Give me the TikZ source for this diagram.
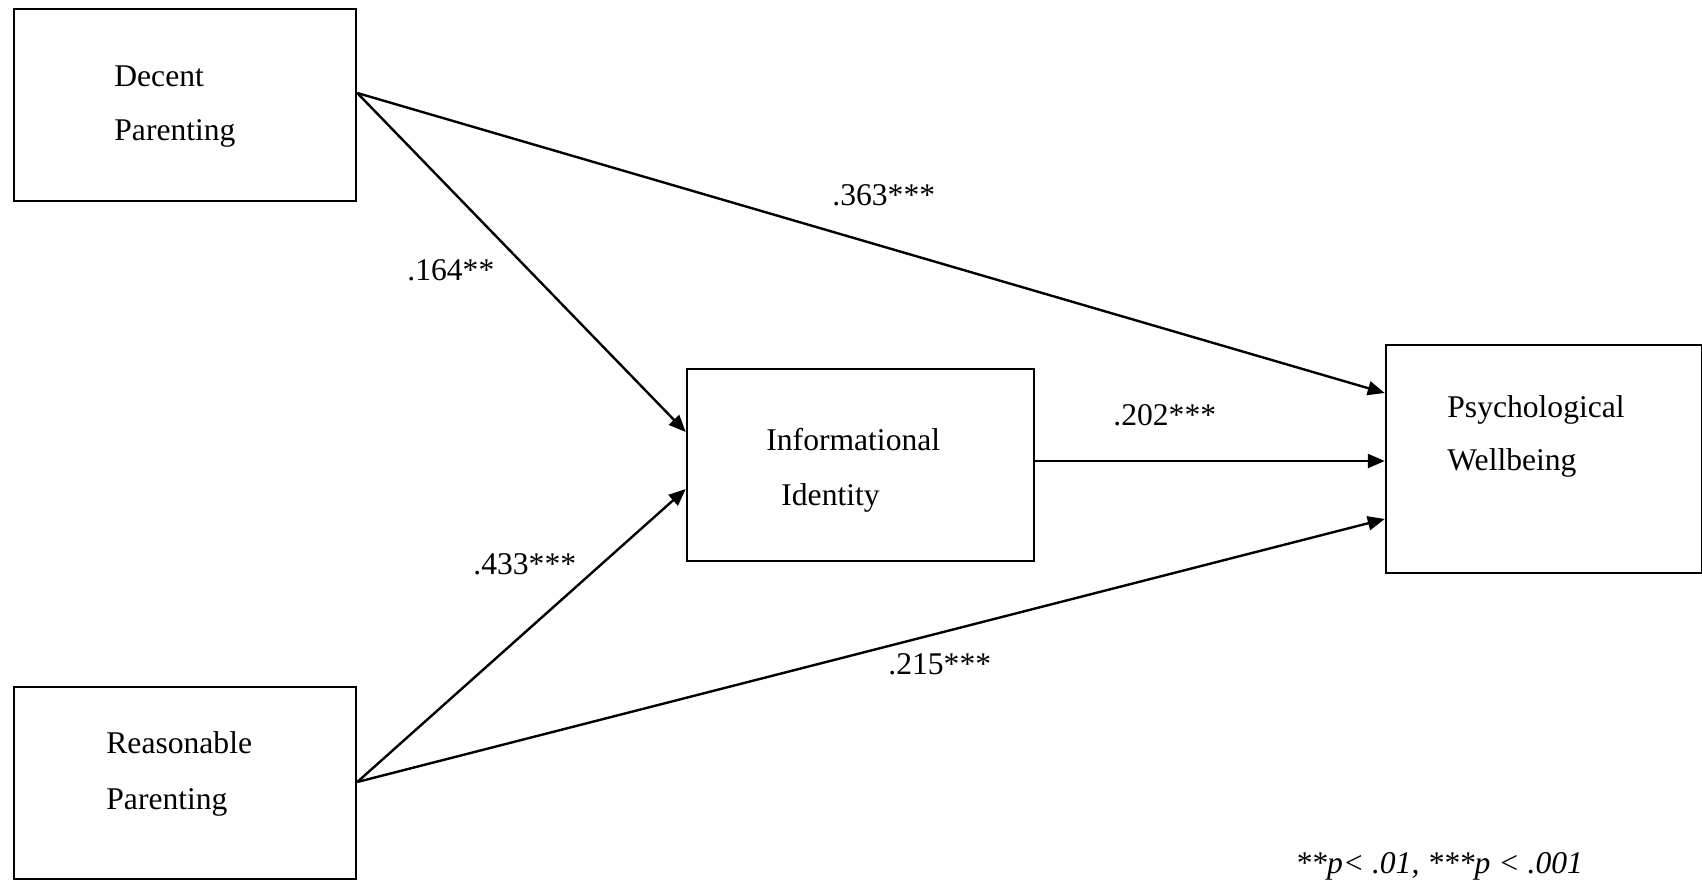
\documentclass[tikz,border=0pt]{standalone}
\usepackage{fontspec}
\setmainfont{Liberation Serif}
\usetikzlibrary{calc,arrows.meta}

\begin{document}
\begin{tikzpicture}[x=0.5pt,y=-0.5pt,
  box/.style={draw,line width=1.25pt,minimum width=#1,inner sep=0pt},
  txt/.style={anchor=base west,inner sep=0pt,font=\fontsize{15.8}{19}\selectfont},
  path/.style={line width=1.2pt,-{Triangle[length=8.5pt,width=7pt]}}]
  \useasboundingbox (0,0) rectangle (1702,884);

  % construct boxes
  \node[box=171pt,minimum height=96pt] (dec) at (185,105) {};
  \node[box=171pt,minimum height=96pt] (rea) at (185,783) {};
  \node[box=173.5pt,minimum height=96pt] (inf) at (860.5,465) {};
  \node[box=158pt,minimum height=114pt] (psy) at (1544,459) {};

  % box captions
  \node[txt] (decA) at (114,86) {Decent};
  \node[txt] (decB) at (114,140) {Parenting};
  \node[txt] (reaA) at (106,753) {Reasonable};
  \node[txt] (reaB) at (106,809) {Parenting};
  \node[txt] (infA) at (766,450) {Informational};
  \node[txt] (infB) at (781,505) {Identity};
  \node[txt] (psyA) at (1447,417) {Psychological};
  \node[txt] (psyB) at (1447,470) {Wellbeing};

  % path ends on the box edges
  \coordinate (decout) at ($(dec.east)+(0,-12)$);
  \coordinate (reaout) at ($(rea.east)+(0,-1)$);
  \coordinate (infin1) at ($(inf.west)+(0,-33)$);
  \coordinate (infin2) at ($(inf.west)+(0,24)$);
  \coordinate (infout) at ($(inf.east)+(0,-4)$);
  \coordinate (psyin1) at ($(psy.west)+(0,-66)$);
  \coordinate (psyin2) at ($(psy.west)+(0,2)$);
  \coordinate (psyin3) at ($(psy.west)+(0,60)$);

  % paths
  \draw[path] (decout) -- (infin1);
  \draw[path] (decout) -- (psyin1);
  \draw[path] (reaout) -- (infin2);
  \draw[path] (reaout) -- (psyin3);
  \draw[path] (infout) -- (psyin2);

  % coefficients
  \node[txt] (c363) at (832,205) {.363***};
  \node[txt] (c164) at (407,280) {.164**};
  \node[txt] (c202) at (1113,425) {.202***};
  \node[txt] (c433) at (473,574) {.433***};
  \node[txt] (c215) at (888,674) {.215***};

  % significance note
  \node[txt,font=\fontsize{15.8}{19}\selectfont\itshape] (note) at (1295,873) {**p< .01, ***p < .001};
\end{tikzpicture}
\end{document}
